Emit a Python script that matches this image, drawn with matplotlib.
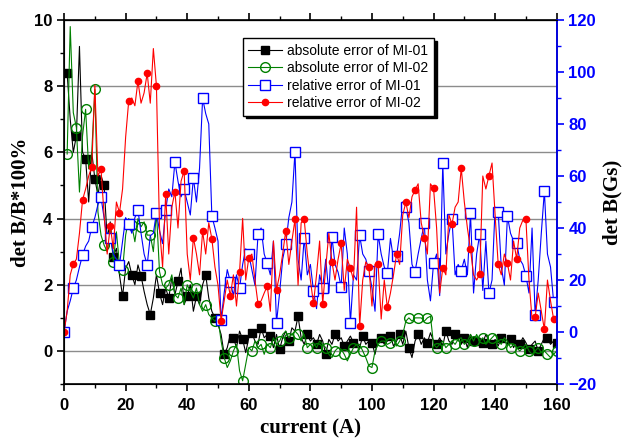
import matplotlib
matplotlib.use("Agg")
import matplotlib.pyplot as plt
from matplotlib.ticker import MultipleLocator
import numpy as np

# current steps (A)
current_abs = np.arange(1, 161)   # absolute error series start at 1 A
current_rel = np.arange(0, 161)   # relative error series start at 0 A

# absolute error of MI-01 (left axis)
abs_mi01 = [
    8.4, 7.0, 6.0, 6.5, 9.2, 6.0, 5.8, 4.5, 6.0, 5.2,
    4.7, 5.3, 5.0, 3.4, 3.9, 2.85, 3.1, 2.3, 1.65, 2.5,
    2.7, 2.3, 2.0, 2.6, 2.27, 1.8, 1.4, 1.1, 1.6, 2.3,
    1.75, 1.4, 1.9, 1.6, 2.2, 1.7, 2.1, 2.5, 1.4, 1.65,
    2.0, 1.2, 1.65, 1.4, 2.0, 2.3, 1.6, 1.2, 1.0, 0.8,
    0.5, -0.1, 0.1, 0.5, 0.4, 0.1, 0.6, 0.35, -0.05, 0.4,
    0.55, 0.3, 0.2, 0.7, 0.4, 0.5, 0.45, 0.1, 0.5, 0.05,
    0.4, 0.6, 0.3, 0.7, 0.6, 1.05, 0.4, 0.2, 0.5, 0.3,
    0.4, 0.2, 0.5, 0.3, -0.1, 0.35, 0.2, 0.5, 0.3, 0.4,
    0.15, 0.3, 0.45, 0.25, 0.3, 0.1, 0.45, 0.2, 0.3, 0.25,
    -0.1, 0.35, 0.4, 0.2, 0.3, 0.45, 0.15, 0.3, 0.5, 0.2,
    0.6, 0.1, -0.2, 0.3, 0.5, 0.2, 0.4, 0.25, 0.55, 0.3,
    0.2, 0.4, 0.15, 0.6, 0.3, 0.2, 0.5, 0.35, 0.2, 0.4,
    0.1, 0.5, 0.3, 0.2, 0.4, 0.25, 0.5, 0.3, 0.2, 0.35,
    0.15, 0.4, 0.3, 0.2, 0.35, 0.1, 0.3, 0.2, 0.4, 0.25,
    0.05, 0.2, 0.3, 0.0, 0.2, 0.4, 0.4, 0.2, 0.3, 0.25,
]

# absolute error of MI-02 (left axis)
abs_mi02 = [
    5.95, 9.8, 7.2, 6.75, 4.8, 6.5, 7.3, 5.5, 6.0, 7.9,
    4.2, 3.5, 3.2, 3.0, 3.8, 2.7, 3.6, 2.6, 2.45, 3.5,
    4.0, 3.8, 3.3, 4.0, 3.75, 3.9, 3.5, 3.5, 3.0, 4.2,
    2.4, 2.0, 1.9, 2.0, 2.3, 1.7, 1.6, 1.9, 1.4, 2.0,
    1.8, 1.6, 1.9, 1.4, 1.2, 1.4, 1.1, 1.0, 0.9, 1.0,
    0.3, -0.2, -0.5, -0.3, 0.0, 0.2, -0.6, -0.9, -0.4, 0.1,
    0.0, 0.3, 0.1, 0.2, -0.1, 0.2, 0.1, 0.4, 0.2, 0.3,
    0.5, 0.6, 0.4, 0.5, 0.6, 0.5, 0.3, 0.5, 0.1, 0.2,
    0.25, 0.1, 0.3, 0.2, 0.1, -0.1, -0.2, 0.0, 0.1, 0.05,
    -0.1, -0.3, -0.1, 0.1, 0.2, 0.2, 0.0, -0.2, -0.45, -0.5,
    0.0, 0.2, 0.3, 0.3, 0.2, 0.25, 0.35, 0.15, 0.3, 0.5,
    0.9, 1.0, 0.9, 1.0, 1.0, 1.0, 0.9, 1.0, 1.05, 0.2,
    0.1, 0.2, 0.3, 0.1, 0.2, 0.3, 0.2, 0.35, 0.4, 0.2,
    0.3, 0.5, 0.3, 0.5, 0.3, 0.4, 0.2, 0.3, 0.4, 0.5,
    0.3, 0.2, 0.4, 0.3, 0.1, 0.2, 0.1, 0.0, 0.1, 0.2,
    0.0, -0.1, 0.0, 0.1, -0.05, 0.0, -0.1, -0.2, -0.1, 0.0,
]

# relative error of MI-01 (right axis, Gs)
rel_mi01 = [
    0, 8, 12, 16.8, 20, 25, 29.6, 33, 35, 40.5,
    44, 49, 51.8, 44, 36, 36.3, 30, 28, 25.8, 35,
    44, 41.4, 38, 44, 46.9, 38, 30, 25.8, 37, 38,
    45.9, 39, 34, 46.9, 55, 52, 65.4, 58, 52, 54.9,
    50, 45, 59.3, 50, 63, 89.9, 84, 80, 44.6, 40,
    35, 4.6, 15, 24, 19.4, 14, 22, 16.8, 26, 32,
    29.9, 24, 18, 37.6, 40, 30, 26.4, 22, 35, 3.6,
    15, 28, 33.8, 44, 50, 69.4, 28, 20, 36.3, 22,
    26, 15.9, 9, 22, 17, 28, 15, 36.7, 26, 23,
    17.4, 40, 30, 3.6, 22, 20, 37.2, 30, 28, 23.5,
    17, 8, 37.6, 30, 25, 22.6, 36, 28, 29.2, 38,
    50, 48, 42, 26, 23.2, 30, 36, 41.8, 20, 12,
    26.4, 30, 14, 64.9, 30, 38, 43.5, 22, 26, 23.6,
    28, 22, 45.6, 15, 30, 37.7, 16, 35, 14.9, 20,
    48, 46.3, 25, 18, 44.6, 38, 35, 34.1, 28, 26,
    21.7, 15, 40, 6.5, 20, 38, 54.2, 30, 25, 11.7,
    12,
]

# relative error of MI-02 (right axis, Gs)
rel_mi02 = [
    0, 8, 22, 26.2, 28, 38, 50.8, 55, 60, 63.6,
    95, 60, 62.6, 45, 30, 40.8, 32, 50, 45.9, 55,
    75, 88.9, 90, 87, 96.5, 88, 92, 99.5, 88, 109,
    94.6, 40, 25, 53, 30, 48, 54, 40, 58, 62,
    30, 20, 36.3, 30, 22, 38.8, 30, 42, 35.9, 25,
    18, 4.3, 12, 20, 14, 22, 10, 23.2, 43.7, 20,
    28.6, 30, 20, 10.8, 12, 15, 17.7, 8, 35, 16.2,
    22, 30, 39, 26, 35, 43.3, 18, 42, 43.3, 30,
    20, 11, 22, 35, 10.8, 25, 38, 27, 20, 28,
    34.1, 16, 28, 24.5, 20, 48, 2.3, 20, 27, 25.1,
    10, 26, 26, 5, 20, 9.5, 15, 22, 30, 26,
    45, 49.9, 44, 52, 54.6, 57, 42, 36.3, 30, 57,
    55.3, 40, 15, 24.7, 22, 45, 41.5, 48, 50, 63,
    50, 40, 31.9, 22, 20, 22.3, 60, 55, 60.1, 65,
    45, 26, 22, 30, 26.4, 20, 35, 28.1, 40, 43,
    43.5, 20, 5, 5.7, 15, 8, 1, 20, 12, 5,
    6,
]

fig = plt.figure(figsize=(6.22, 4.43), dpi=100)
ax = fig.add_axes([0.103, 0.133, 0.792, 0.822])
ax2 = ax.twinx()

ax.grid(axis='y', color='#8c8c8c', linewidth=1.0)
ax.set_axisbelow(True)

l1, = ax.plot(current_abs, abs_mi01, color='black', lw=0.8, marker='s', ms=6,
              mfc='black', mec='black', markevery=3, label='absolute error of MI-01')
l2, = ax.plot(current_abs, abs_mi02, color='green', lw=0.8, marker='o', ms=7,
              mfc='none', mec='green', markevery=3, label='absolute error of MI-02')
l3, = ax2.plot(current_rel, rel_mi01, color='blue', lw=0.8, marker='s', ms=6.5,
               mfc='white', mec='blue', markevery=3, label='relative error of MI-01')
l4, = ax2.plot(current_rel, rel_mi02, color='red', lw=0.8, marker='o', ms=4.5,
               mfc='red', mec='red', markevery=3, label='relative error of MI-02')

ax.set_xlim(0, 160)
ax.set_ylim(-1, 10)
ax2.set_ylim(-20, 120)

tick_font = {'family': 'Liberation Sans', 'weight': 'bold', 'size': 12}
ax.xaxis.set_major_locator(MultipleLocator(20))
ax.xaxis.set_minor_locator(MultipleLocator(10))
ax.yaxis.set_major_locator(MultipleLocator(2))
ax.yaxis.set_minor_locator(MultipleLocator(1))
ax2.yaxis.set_major_locator(MultipleLocator(20))
ax2.yaxis.set_minor_locator(MultipleLocator(10))

ax.tick_params(axis='both', which='major', direction='out', length=5, width=1.2)
ax.tick_params(axis='both', which='minor', direction='out', length=3, width=1)
ax.tick_params(axis='x', which='major', pad=5)
ax.tick_params(axis='x', which='both', top=True, labeltop=False)
ax2.tick_params(axis='y', which='major', direction='out', length=5, width=1.2, colors='blue')
ax2.tick_params(axis='y', which='minor', direction='out', length=3, width=1, colors='blue')

for lab in ax.get_xticklabels() + ax.get_yticklabels():
    lab.set_fontproperties(tick_font)
for lab in ax2.get_yticklabels():
    lab.set_fontproperties(tick_font)
    lab.set_color('blue')

for sp in ax.spines.values():
    sp.set_linewidth(1.2)
ax2.spines['right'].set_color('blue')
ax2.spines['right'].set_linewidth(1.2)

label_font = {'family': 'Liberation Serif', 'weight': 'bold', 'size': 15}
ax.set_xlabel('current (A)', fontdict=label_font, labelpad=4)
ax.set_ylabel('det B/B*100%', fontdict=label_font, labelpad=2)
ax2.set_ylabel('det B(Gs)', fontdict=label_font, labelpad=4)

leg = ax2.legend(handles=[l1, l2, l3, l4], loc='upper left',
                 bbox_to_anchor=(0.363, 0.95), fancybox=False, framealpha=1,
                 edgecolor='black', shadow={'color': 'black', 'alpha': 1},
                 prop={'family': 'Liberation Sans', 'size': 10},
                 handlelength=2.4, borderpad=0.4, labelspacing=0.25,
                 handletextpad=0.4, borderaxespad=0)
leg.get_frame().set_linewidth(1.0)

fig.savefig('out.png', dpi=100)
